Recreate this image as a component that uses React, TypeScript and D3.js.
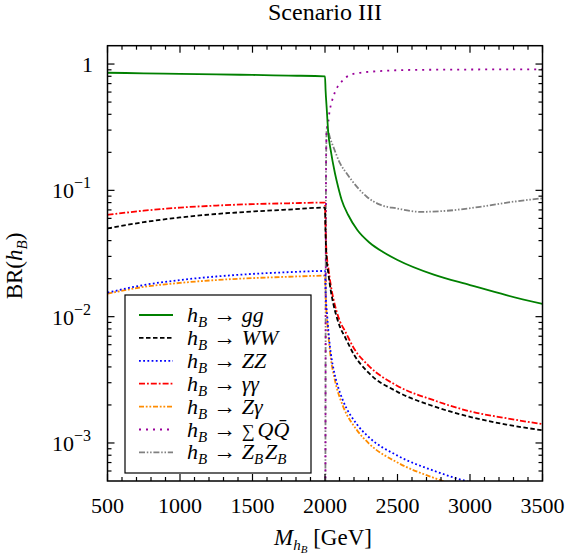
import React from "react";
import * as d3 from "d3";

// branching ratios of h_B vs its mass, [M in GeV, BR]
const ggPoints: [number, number][] = [
  [500, 0.853], [750, 0.845], [1000, 0.837], [1250, 0.828], [1500, 0.82], [1750, 0.81], [2000, 0.8],
  [2004, 0.62], [2011, 0.46], [2023, 0.282], [2039, 0.209], [2069, 0.136], [2092, 0.105], [2115, 0.084],
  [2160, 0.0638], [2223, 0.0485], [2310, 0.0383], [2400, 0.0325], [2500, 0.0281], [2750, 0.0215],
  [3000, 0.0178], [3250, 0.0148], [3500, 0.0126],
];
const wwPoints: [number, number][] = [
  [500, 0.05], [750, 0.056], [1000, 0.061], [1250, 0.065], [1500, 0.068], [1750, 0.0705], [2000, 0.073],
  [2003, 0.05], [2010, 0.03], [2023, 0.022], [2039, 0.0163], [2057, 0.0127], [2080, 0.01], [2103, 0.0083],
  [2138, 0.0069], [2200, 0.005], [2300, 0.0036], [2500, 0.00254], [2750, 0.00195], [3000, 0.00161],
  [3250, 0.0014], [3500, 0.00126],
];
const zzPoints: [number, number][] = [
  [500, 0.0155], [750, 0.0178], [1000, 0.0195], [1250, 0.0208], [1500, 0.0218], [1750, 0.0225], [2000, 0.023],
  [2005, 0.015], [2015, 0.0102], [2023, 0.0078], [2046, 0.00461], [2057, 0.00394], [2080, 0.00304],
  [2103, 0.00251], [2126, 0.00214], [2219, 0.00141], [2299, 0.00112], [2500, 0.000794], [2750, 0.000603],
  [3000, 0.00049], [3250, 0.000427], [3500, 0.00038],
];
const aaPoints: [number, number][] = [
  [500, 0.064], [750, 0.069], [1000, 0.073], [1250, 0.0758], [1500, 0.0778], [1750, 0.079], [2000, 0.08],
  [2003, 0.055], [2010, 0.033], [2023, 0.0243], [2039, 0.018], [2057, 0.014], [2080, 0.011], [2103, 0.0092],
  [2138, 0.0077], [2200, 0.0056], [2300, 0.0041], [2500, 0.00283], [2750, 0.00218], [3000, 0.00178],
  [3250, 0.00157], [3500, 0.00141],
];
const zaPoints: [number, number][] = [
  [500, 0.0152], [750, 0.0172], [1000, 0.0185], [1250, 0.0195], [1500, 0.0202], [1750, 0.0207], [2000, 0.0211],
  [2005, 0.014], [2015, 0.0093], [2023, 0.0072], [2046, 0.0042], [2057, 0.0036], [2080, 0.00276],
  [2103, 0.00227], [2126, 0.00193], [2219, 0.00127], [2299, 0.001], [2500, 0.0007], [2750, 0.00053],
  [3000, 0.00043], [3250, 0.00037], [3500, 0.00033],
];
const qqPoints: [number, number][] = [
  [2002, 0.0001], [2008, 0.2], [2012, 0.3], [2023, 0.35], [2030, 0.41], [2046, 0.5], [2069, 0.6],
  [2126, 0.75], [2207, 0.84], [2379, 0.88], [2600, 0.898], [3000, 0.905], [3500, 0.908],
];
const zbPoints: [number, number][] = [
  [2002, 0.0001], [2007, 0.15], [2012, 0.31], [2020, 0.3], [2035, 0.26], [2057, 0.222], [2103, 0.164],
  [2150, 0.136], [2219, 0.107], [2288, 0.089], [2379, 0.077], [2494, 0.072], [2655, 0.0676],
  [2839, 0.0689], [3069, 0.0741], [3299, 0.0813], [3500, 0.0865],
];

const xTicks = [500, 1000, 1500, 2000, 2500, 3000, 3500];
const yDecades = [-3, -2, -1, 0];

const series = [
  { name: "gg", pts: ggPoints, color: "#008000", dash: "none" },
  { name: "WW", pts: wwPoints, color: "#000000", dash: "4.5,2.5" },
  { name: "ZZ", pts: zzPoints, color: "#0000ff", dash: "1.8,2.4" },
  { name: "γγ", pts: aaPoints, color: "#ff0000", dash: "6,2,1.8,2" },
  { name: "Zγ", pts: zaPoints, color: "#ff8c00", dash: "5,1.8,1.8,1.8,1.8,1.8" },
  { name: "QQ", pts: qqPoints, color: "#990099", dash: "2,5" },
  { name: "ZBZB", pts: zbPoints, color: "#808080", dash: "6,1.8,1.5,1.8,1.5,1.8" },
];

const W = 573;
const H = 557;
const left = 107.5;
const right = 542.5;
const top = 45.7;
const bottom = 481;
const font = "'Liberation Serif', 'DejaVu Serif', serif";

const x = d3.scaleLinear().domain([500, 3500]).range([left, right]);
const y = d3.scaleLog().domain([5e-4, 1.397]).range([bottom, top]);

const line = d3
  .line<[number, number]>()
  .x((d) => x(d[0]))
  .y((d) => y(d[1]))
  .curve(d3.curveMonotoneX);

const Sub = ({ t }: { t: string }) => (
  <>
    <tspan fontSize={15} fontStyle="italic" dy={5}>{t}</tspan>
    <tspan dy={-5}>{"\u200a"}</tspan>
  </>
);

const Label = ({ name }: { name: string }) => {
  const head = (
    <>
      <tspan fontStyle="italic">h</tspan>
      <tspan fontSize={15} fontStyle="italic" dy={5}>B</tspan>
      <tspan fontSize={23} dy={-5}>{" → "}</tspan>
    </>
  );
  if (name === "QQ")
    return (
      <>
        {head}
        <tspan fontSize={18}>∑</tspan>
        <tspan fontStyle="italic" dx={3}>Q</tspan>
        <tspan fontStyle="italic">Q̄</tspan>
      </>
    );
  if (name === "ZBZB")
    return (
      <>
        {head}
        <tspan fontStyle="italic">Z</tspan>
        <Sub t="B" />
        <tspan fontStyle="italic">Z</tspan>
        <Sub t="B" />
      </>
    );
  return (
    <>
      {head}
      <tspan fontStyle="italic">{name}</tspan>
    </>
  );
};

export default function App() {
  const xMinor = d3.range(500, 3501, 100).filter((v) => v % 500 !== 0);
  const yMinor: number[] = [];
  for (const e of [-4, -3, -2, -1, 0])
    for (let k = 2; k <= 9; k++) {
      const v = k * Math.pow(10, e);
      if (v > 5e-4 && v < 1.397) yMinor.push(v);
    }

  return (
    <svg width={W} height={H} style={{ position: "absolute", left: 0, top: 0, fontFamily: font }}>
      <rect width={W} height={H} fill="#fff" />
      <defs>
        <clipPath id="plot">
          <rect x={left} y={top} width={right - left} height={bottom - top} />
        </clipPath>
      </defs>

      <text x={(left + right) / 2} y={20} textAnchor="middle" fontSize={24}>
        Scenario III
      </text>

      <g clipPath="url(#plot)" fill="none" strokeWidth={1.8}>
        {series
          .slice()
          .reverse()
          .map((s) => (
            <path key={s.name} d={line(s.pts) ?? ""} stroke={s.color} strokeDasharray={s.dash} />
          ))}
      </g>

      {/* frame and inward ticks on all four sides */}
      <g stroke="#000" strokeWidth={1.2}>
        {xTicks.map((v) => (
          <g key={v}>
            <line x1={x(v)} x2={x(v)} y1={bottom} y2={bottom - 7} />
            <line x1={x(v)} x2={x(v)} y1={top} y2={top + 7} />
          </g>
        ))}
        {xMinor.map((v) => (
          <g key={v}>
            <line x1={x(v)} x2={x(v)} y1={bottom} y2={bottom - 4} />
            <line x1={x(v)} x2={x(v)} y1={top} y2={top + 4} />
          </g>
        ))}
        {yDecades.map((e) => (
          <g key={e}>
            <line x1={left} x2={left + 7} y1={y(Math.pow(10, e))} y2={y(Math.pow(10, e))} />
            <line x1={right} x2={right - 7} y1={y(Math.pow(10, e))} y2={y(Math.pow(10, e))} />
          </g>
        ))}
        {yMinor.map((v) => (
          <g key={v}>
            <line x1={left} x2={left + 4} y1={y(v)} y2={y(v)} />
            <line x1={right} x2={right - 4} y1={y(v)} y2={y(v)} />
          </g>
        ))}
        <rect x={left} y={top} width={right - left} height={bottom - top} fill="none" strokeWidth={1.5} />
      </g>

      <g fontSize={22}>
        {xTicks.map((v) => (
          <text key={v} x={x(v)} y={513} textAnchor="middle">
            {v}
          </text>
        ))}
        {yDecades.map((e) =>
          e === 0 ? (
            <text key={e} x={93} y={y(1) + 8} textAnchor="end">
              1
            </text>
          ) : (
            <text key={e} x={91} y={y(Math.pow(10, e)) + 8} textAnchor="end">
              10
              <tspan fontSize={16} dy={-10}>
                −{-e}
              </tspan>
            </text>
          )
        )}
      </g>

      <text transform="translate(22,266) rotate(-90)" textAnchor="middle" fontSize={23}>
        BR(<tspan fontStyle="italic">h</tspan>
        <tspan fontSize={15} fontStyle="italic" dy={5}>B</tspan>
        <tspan dy={-5}>)</tspan>
      </text>

      <text x={323} y={545} textAnchor="middle" fontSize={23}>
        <tspan fontStyle="italic">M</tspan>
        <tspan fontSize={15} fontStyle="italic" dy={5}>h</tspan>
        <tspan fontSize={11} fontStyle="italic" dy={3}>B</tspan>
        <tspan dy={-8}> [GeV]</tspan>
      </text>

      <g>
        <rect x={125} y={295} width={186} height={178} fill="#fff" stroke="#000" strokeWidth={1.2} />
        {series.map((s, i) => {
          const cy = 315 + i * 22.9;
          return (
            <g key={s.name}>
              <line x1={139} x2={173} y1={cy} y2={cy} stroke={s.color} strokeWidth={1.8} strokeDasharray={s.dash} />
              <text x={187} y={cy + 7} fontSize={22}>
                <Label name={s.name} />
              </text>
            </g>
          );
        })}
      </g>
    </svg>
  );
}
